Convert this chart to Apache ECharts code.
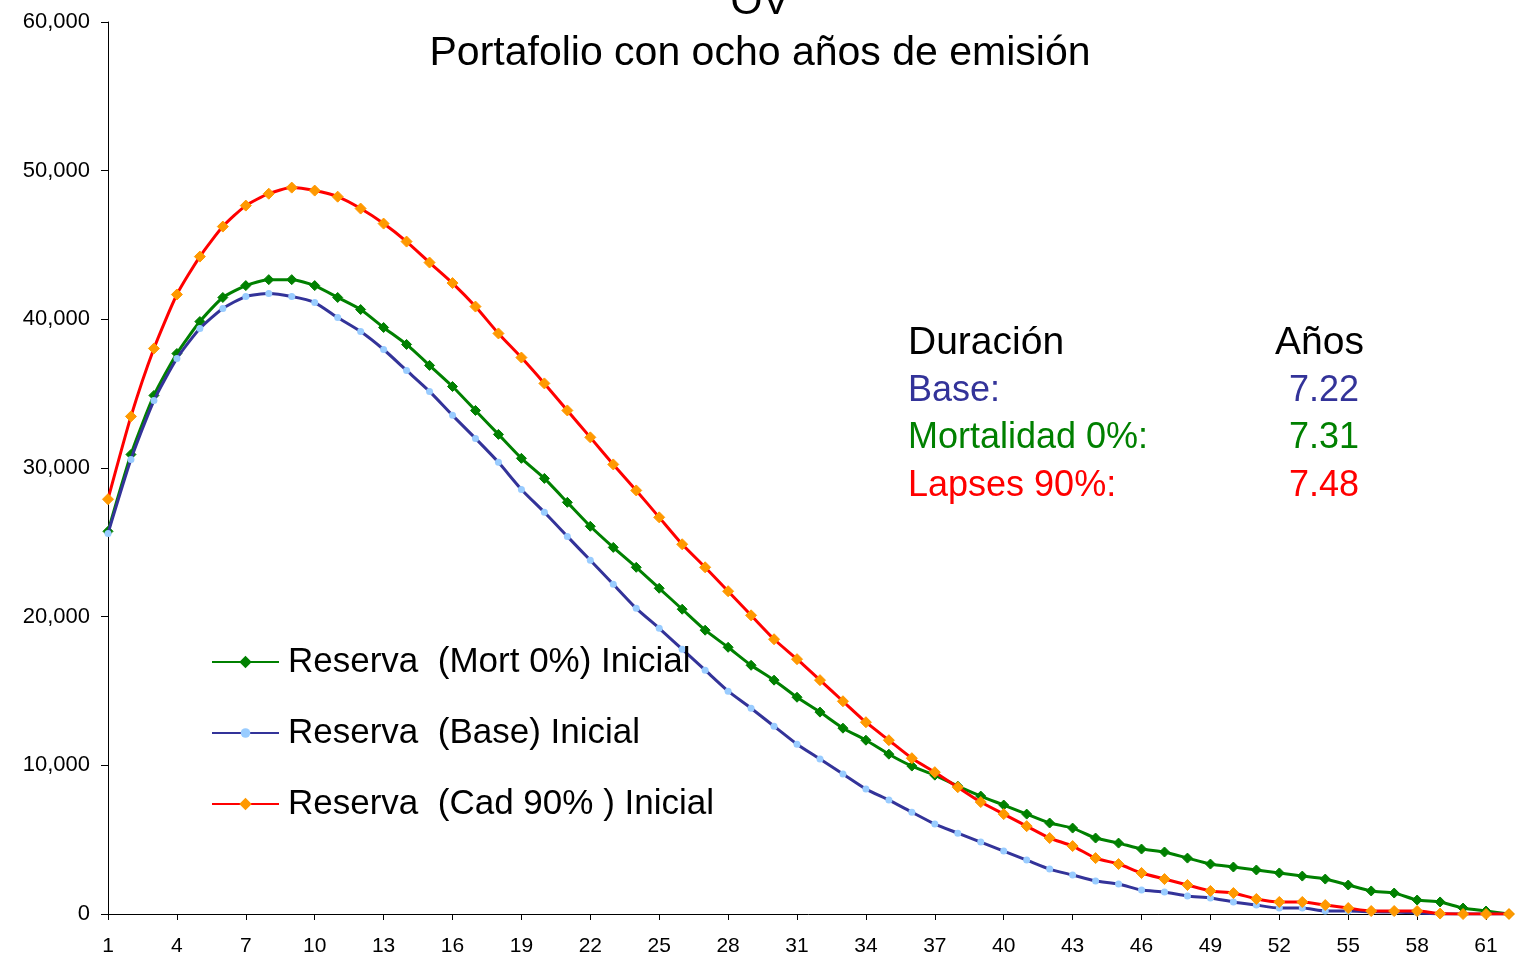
<!DOCTYPE html>
<html>
<head>
<meta charset="utf-8">
<script src="https://cdn.jsdelivr.net/npm/echarts@6/dist/echarts.min.js"></script>
<style>
html,body{margin:0;padding:0;background:#fff;}
#c{width:1515px;height:957px;}
</style>
</head>
<body>
<div id="c"></div>
<script>
var categories = [];
for (var k = 1; k <= 62; k++) categories.push(String(k));

var seriesNames = ['Reserva  (Mort 0%) Inicial', 'Reserva  (Base) Inicial', 'Reserva  (Cad 90% ) Inicial'];

var mort0 = [25740,30910,34880,37700,39850,41470,42270,42670,42670,42270,
  41470,40660,39450,38310,36900,35480,33870,32260,30650,29300,
  27690,26080,24660,23320,21910,20500,19090,17940,16730,15730,
  14580,13580,12500,11690,10750,9950,9340,8600,7930,7330,
  6720,6120,5780,5110,4770,4370,4170,3760,3360,3160,
  2960,2760,2550,2350,1950,1550,1410,940,810,400,
  200,0];

var base = [25600,30580,34540,37370,39380,40730,41530,41730,41530,41130,
  40120,39180,37970,36560,35150,33540,31990,30380,28560,27020,
  25400,23790,22180,20560,19220,17810,16400,14990,13840,12630,
  11420,10420,9410,8400,7660,6850,6050,5440,4840,4230,
  3630,3020,2620,2220,2020,1610,1480,1210,1080,810,
  600,400,400,200,200,150,130,80,0,0,
  0,0];

var cad90 = [27900,33470,38040,41670,44220,46240,47650,48450,48860,48660,
  48250,47450,46440,45230,43820,42440,40860,39050,37430,35690,
  33870,32060,30240,28490,26680,24870,23320,21710,20090,18480,
  17140,15730,14310,12900,11690,10480,9540,8530,7530,6720,
  5910,5110,4570,3760,3360,2760,2350,1950,1550,1410,
  1010,810,810,600,400,200,200,200,30,0,
  0,0];

var titleLines = ['OV', 'Portafolio con ocho años de emisión'];
var durHeader = ['Duración', 'Años'];
var durLabels = ['Base:', 'Mortalidad 0%:', 'Lapses 90%:'];
var durValues = ['7.22', '7.31', '7.48'];

var FONT = '"Liberation Sans", Arial, sans-serif';
var durColors = ['#333399', '#008000', '#FF0000'];

var chart = echarts.init(document.getElementById('c'), null, {renderer: 'canvas'});

var graphics = [
  {type: 'text', style: {x: 760, y: 3, text: titleLines[0], font: '41px ' + FONT, fill: '#000', align: 'center', verticalAlign: 'middle'}},
  {type: 'text', style: {x: 760, y: 54, text: titleLines[1], font: '41px ' + FONT, fill: '#000', align: 'center', verticalAlign: 'middle'}},
  {type: 'text', style: {x: 908, y: 343, text: durHeader[0], font: '39px ' + FONT, fill: '#000', verticalAlign: 'middle', align: 'left'}},
  {type: 'text', style: {x: 1364, y: 343, text: durHeader[1], font: '39px ' + FONT, fill: '#000', verticalAlign: 'middle', align: 'right'}}
];
var rowY = [391, 438, 486];
for (var r = 0; r < 3; r++) {
  graphics.push({type: 'text', style: {x: 908, y: rowY[r], text: durLabels[r], font: '36px ' + FONT, fill: durColors[r], verticalAlign: 'middle', align: 'left'}});
  graphics.push({type: 'text', style: {x: 1359, y: rowY[r], text: durValues[r], font: '36px ' + FONT, fill: durColors[r], verticalAlign: 'middle', align: 'right'}});
}

var option = {
  backgroundColor: '#fff',
  animation: false,
  grid: {left: 108, right: 6, top: 22, bottom: 42},
  legend: {
    orient: 'vertical',
    left: 206,
    top: 637,
    itemWidth: 67,
    itemHeight: 12,
    itemGap: 31,
    data: seriesNames,
    textStyle: {fontFamily: FONT, fontSize: 35, color: '#000', lineHeight: 40, padding: [0, 0, 0, 4]}
  },
  xAxis: {
    type: 'category',
    data: categories,
    boundaryGap: false,
    axisLine: {lineStyle: {color: '#000', width: 1}},
    axisTick: {show: true, interval: 2, length: 6, lineStyle: {color: '#000'}},
    axisLabel: {interval: 2, color: '#000', fontFamily: FONT, fontSize: 21, margin: 22},
    splitLine: {show: false}
  },
  yAxis: {
    type: 'value',
    min: 0,
    max: 60000,
    interval: 10000,
    axisLine: {show: true, lineStyle: {color: '#000', width: 1}},
    axisTick: {show: true, length: 7, lineStyle: {color: '#000'}},
    axisLabel: {color: '#000', fontFamily: FONT, fontSize: 22, margin: 18,
      formatter: function (v) { return v.toLocaleString('en-US'); }},
    splitLine: {show: false}
  },
  graphic: graphics,
  series: [
    {
      name: seriesNames[0], type: 'line', data: mort0, smooth: 0.2,
      symbol: 'diamond', symbolSize: 10, showAllSymbol: true,
      lineStyle: {color: '#008000', width: 3},
      itemStyle: {color: '#008000', borderColor: '#008000', borderWidth: 1},
      z: 2
    },
    {
      name: seriesNames[1], type: 'line', data: base, smooth: 0.2,
      symbol: 'circle', symbolSize: 7, showAllSymbol: true,
      lineStyle: {color: '#333399', width: 3},
      itemStyle: {color: '#99CCFF', borderColor: '#99CCFF', borderWidth: 0},
      z: 3
    },
    {
      name: seriesNames[2], type: 'line', data: cad90, smooth: 0.2,
      symbol: 'diamond', symbolSize: 11, showAllSymbol: true,
      lineStyle: {color: '#FF0000', width: 3},
      itemStyle: {color: '#FF9900', borderColor: '#FF9900', borderWidth: 1},
      z: 4
    }
  ]
};
chart.setOption(option);
</script>
</body>
</html>
